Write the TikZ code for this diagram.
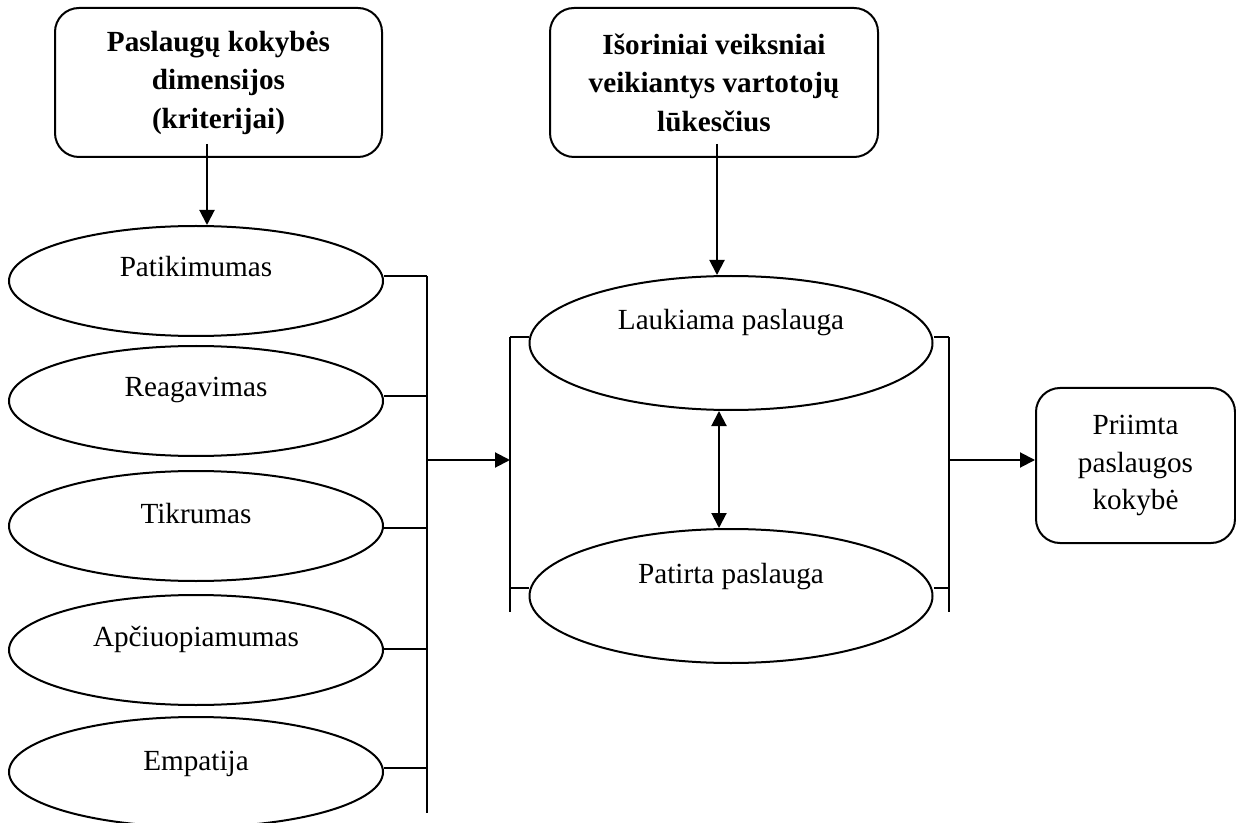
\documentclass[tikz,border=0pt]{standalone}
\usepackage{fontspec}
\setmainfont{Liberation Serif}
\usetikzlibrary{arrows.meta,shapes.geometric}
\begin{document}
\begin{tikzpicture}[x=0.5pt,y=-0.5pt,line width=1pt,
  rbox/.style={draw,rounded corners=12pt,align=center,inner sep=0pt},
  ell/.style={draw,ellipse,inner sep=0pt},
  lbl/.style={anchor=base,inner sep=0pt,font=\fontsize{14.6}{18.75}\selectfont},
  bfont/.style={font=\bfseries\fontsize{14.6}{19.25}\selectfont},
  rfont/.style={font=\fontsize{14.6}{18.75}\selectfont},
  arr/.style={-{Triangle[length=7.5pt,width=7.5pt]}},
  darr/.style={{Triangle[length=7.5pt,width=7.5pt]}-{Triangle[length=7.5pt,width=7.5pt]}}]
\useasboundingbox (0,0) rectangle (1236,823);

% top boxes
\node[rbox,bfont,minimum width=163.5pt,minimum height=74.5pt] (b1) at (218.5,82.5)
  {Paslaugų kokybės\\dimensijos\\(kriterijai)};
\node[rbox,bfont,minimum width=164pt,minimum height=74.5pt] (b2) at (714,82.5)
  {Išoriniai veiksniai\\veikiantys vartotojų\\lūkesčius};
\node[rbox,rfont,minimum width=99.5pt,minimum height=77.5pt] (pr) at (1135.5,465.5)
  {Priimta\\paslaugos\\kokybė};

% left ellipses
\foreach \n/\y in {p1/281,p2/401,p3/526,p4/650,p5/772}
  \node[ell,minimum width=187pt,minimum height=55pt] (\n) at (196,\y) {};
\node[lbl] (t1) at (196,277) {Patikimumas};
\node[lbl] (t2) at (196,397) {Reagavimas};
\node[lbl] (t3) at (196,523) {Tikrumas};
\node[lbl] (t4) at (196,646) {Apčiuopiamumas};
\node[lbl] (t5) at (196,770) {Empatija};

% middle ellipses
\node[ell,minimum width=201.5pt,minimum height=67pt] (l) at (731,343) {};
\node[ell,minimum width=201.5pt,minimum height=67pt] (pt) at (731,596) {};
\node[lbl] (tl) at (731,330) {Laukiama paslauga};
\node[lbl] (tp) at (731,583) {Patirta paslauga};

% coordinates
\coordinate (a1) at (207,144);
\coordinate (a2) at (717,144);
\coordinate (j1) at (427,276);
\coordinate (j2) at (427,396);
\coordinate (j3) at (427,528);
\coordinate (j4) at (427,649);
\coordinate (j5) at (427,768);
\coordinate (jb) at (427,813);
\coordinate (jm) at (427,460);
\coordinate (m1) at (510,337);
\coordinate (m2) at (510,588);
\coordinate (mb) at (510,612);
\coordinate (mm) at (510,460);
\coordinate (r1) at (949,337);
\coordinate (r2) at (949,588);
\coordinate (rb) at (949,612);
\coordinate (rm) at (949,460);

% arrows from top boxes
\draw[arr] (a1) -- (a1 |- p1.north);
\draw[arr] (a2) -- (a2 |- l.north);

% left bus
\draw (j1) -- (jb);
\foreach \n/\j in {p1/j1,p2/j2,p3/j3,p4/j4,p5/j5}
  \draw (\n.east |- \j) -- (\j);
\draw[arr] (jm) -- (mm);

% middle bus
\draw (m1) -- (mb);
\draw (m1) -- (m1 -| l.west);
\draw (m2) -- (m2 -| pt.west);

% right bus
\draw (r1) -- (rb);
\draw (r1) -- (r1 -| l.east);
\draw (r2) -- (r2 -| pt.east);
\draw[arr] (rm) -- (rm -| pr.west);

% double arrow
\draw[darr] ([xshift=-6pt]l.south) -- ([xshift=-6pt]pt.north);
\end{tikzpicture}
\end{document}
